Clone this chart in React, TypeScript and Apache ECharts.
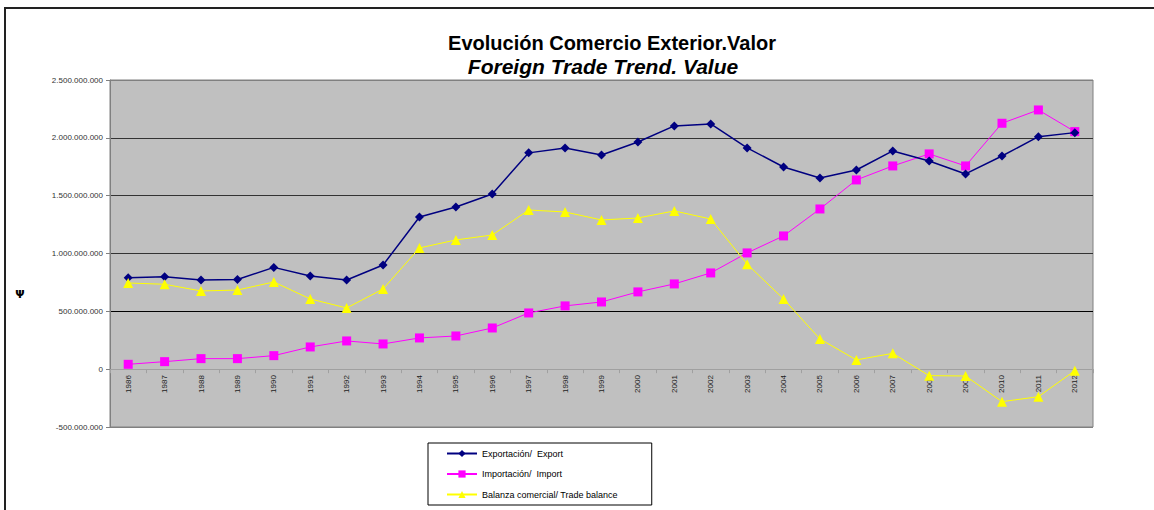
import React, { useEffect, useRef } from "react";
import * as echarts from "echarts";

const years = ["1986","1987","1988","1989","1990","1991","1992","1993","1994","1995","1996","1997","1998","1999","2000","2001","2002","2003","2004","2005","2006","2007","2008","2009","2010","2011","2012"];

const exportValues = [790e6, 800e6, 770e6, 775e6, 880e6, 805e6, 771e6, 900e6, 1316e6, 1402e6, 1515e6, 1870e6, 1913e6, 1852e6, 1964e6, 2103e6, 2120e6, 1913e6, 1748e6, 1653e6, 1722e6, 1887e6, 1800e6, 1688e6, 1843e6, 2010e6, 2045e6];

const importValues = [42e6, 65e6, 91e6, 91e6, 117e6, 192e6, 244e6, 218e6, 270e6, 287e6, 356e6, 486e6, 547e6, 581e6, 668e6, 737e6, 832e6, 1005e6, 1152e6, 1385e6, 1636e6, 1757e6, 1861e6, 1757e6, 2126e6, 2241e6, 2054e6];

const balanceValues = [745e6, 734e6, 676e6, 684e6, 754e6, 607e6, 529e6, 693e6, 1048e6, 1117e6, 1160e6, 1376e6, 1359e6, 1290e6, 1307e6, 1368e6, 1298e6, 908e6, 607e6, 261e6, 80e6, 137e6, -56e6, -59e6, -281e6, -238e6, -13e6];

const seriesNames = ["Exportación/  Export", "Importación/  Import", "Balanza comercial/ Trade balance"];
const titleText = "Evolución Comercio Exterior.Valor";
const subtitleText = "Foreign Trade Trend. Value";

const yMin = -500000000;
const yMax = 2500000000;

function fmt(v: number): string {
  const neg = v < 0;
  const s = Math.abs(v).toFixed(0).replace(/\B(?=(\d{3})+(?!\d))/g, ".");
  return (neg ? "-" : "") + s;
}

export default function App() {
  const ref = useRef<HTMLDivElement>(null);
  useEffect(() => {
    document.body.style.margin = "0";
    const chart = echarts.init(ref.current!, null, { renderer: "svg" });
    const font = "Liberation Sans, Arial, sans-serif";
    const gridTop = 80;
    const gridBottom = 83;
    const gridH = 510 - gridTop - gridBottom;
    const zeroOffset = -gridH * (0 - yMin) / (yMax - yMin);
    chart.setOption({
      animation: false,
      backgroundColor: "#ffffff",
      textStyle: { fontFamily: font },
      graphic: [
        { type: "rect", shape: { x: 5, y: 8, width: 1300, height: 700 }, style: { fill: "none", stroke: "#222", lineWidth: 2 }, silent: true },
        { type: "text", x: 612, y: 42.5, style: { text: titleText, fontFamily: font, fontSize: 20, fontWeight: "bold", fill: "#000", align: "center", verticalAlign: "middle" } },
        { type: "text", x: 603, y: 66.5, style: { text: subtitleText, fontFamily: font, fontSize: 21, fontWeight: "bold", fontStyle: "italic", fill: "#000", align: "center", verticalAlign: "middle" } },
        { type: "text", x: 20, y: 294, style: { text: "Ψ", fontFamily: "DejaVu Sans", fontSize: 11, fontWeight: "bold", fill: "#000", align: "center", verticalAlign: "middle" } },
      ],
      grid: {
        left: 110, top: gridTop, right: 61, bottom: gridBottom,
        show: true, backgroundColor: "#c0c0c0", borderColor: "#808080", borderWidth: 1,
      },
      legend: {
        orient: "vertical",
        left: 428, top: 443,
        itemWidth: 30, itemHeight: 9, itemGap: 11.5,
        padding: [6, 34, 6, 18],
        borderColor: "#000", borderWidth: 1,
        backgroundColor: "#fff",
        textStyle: { fontSize: 9, color: "#000", fontFamily: font },
        data: seriesNames,
      },
      xAxis: {
        type: "category",
        data: years,
        boundaryGap: true,
        offset: zeroOffset,
        axisLine: { onZero: false, lineStyle: { color: "#a0a0a0", width: 1 } },
        axisTick: { show: true, length: 4, lineStyle: { color: "#a0a0a0" } },
        axisLabel: { rotate: 90, fontSize: 8, color: "#222", fontFamily: font, margin: 6, interval: 0 },
        splitLine: { show: false },
      },
      yAxis: {
        type: "value",
        min: yMin, max: yMax, interval: 500000000,
        axisLine: { show: true, lineStyle: { color: "#808080" } },
        axisTick: { show: true, length: 4, lineStyle: { color: "#808080" } },
        axisLabel: { fontSize: 8, color: "#333", fontFamily: font, margin: 7, formatter: (v: number) => fmt(v) },
        splitLine: { show: true, lineStyle: { color: ["#808080", "#a0a0a0", "#000", "#333", "#333", "#333", "#808080"], width: 1 } },
      },
      series: [
        { name: seriesNames[0], type: "line", data: exportValues, symbol: "diamond", symbolSize: 9, color: "#000080", lineStyle: { color: "#000080", width: 1.5 }, itemStyle: { color: "#000080" }, z: 3 },
        { name: seriesNames[1], type: "line", data: importValues, symbol: "rect", symbolSize: 9, color: "#ff00ff", lineStyle: { color: "#ff00ff", width: 1 }, itemStyle: { color: "#ff00ff" }, z: 2 },
        { name: seriesNames[2], type: "line", data: balanceValues, symbol: "triangle", symbolSize: 10, color: "#ffff00", lineStyle: { color: "#ffff00", width: 1 }, itemStyle: { color: "#ffff00" }, z: 4 },
      ],
    });
    return () => chart.dispose();
  }, []);
  return <div ref={ref} style={{ width: 1154, height: 510, position: "absolute", left: 0, top: 0 }} />;
}
